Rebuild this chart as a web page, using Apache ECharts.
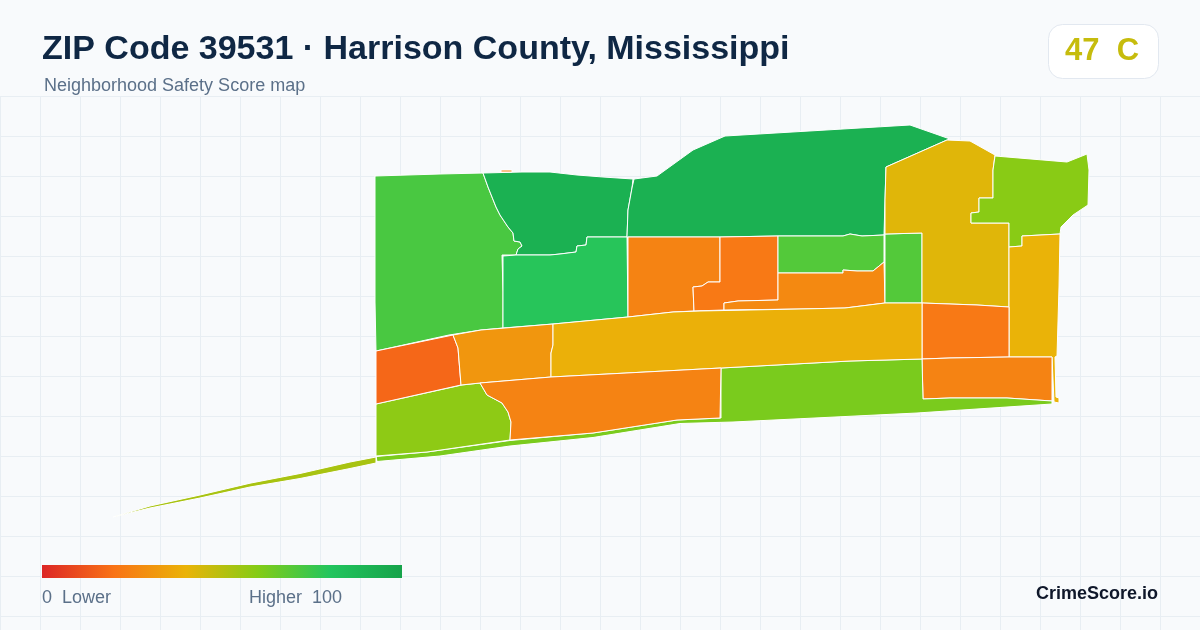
<!DOCTYPE html>
<html>
<head>
<meta charset="utf-8">
<style>html,body{margin:0;padding:0;background:#f8fafc}#c{width:1200px;height:630px}</style>
<script src="https://cdn.jsdelivr.net/npm/echarts@6/dist/echarts.min.js"></script>
</head>
<body>
<div id="c"></div>
<script>
const titleText = "ZIP Code 39531 · Harrison County, Mississippi";
const subtitleText = "Neighborhood Safety Score map";
const overallScore = 47;
const overallGrade = "C";
const brandText = "CrimeScore.io";
const scaleMin = 0, scaleMax = 100;
const scaleColors = ["#dc2626","#f97316","#eab308","#84cc16","#22c55e","#16a34a"];

const regionNames = ["NW","N","NE","CW","C1","C2","C3","C4","C5","EN","NEE","E","EC","SE","S","SW","W","WC","BAND","SC","TAIL"];
const regionScores = [72,92,92,79,25,22,70,27,70,42,59,40,22,25,62,58,17,31,39,25,53];
const regionRings = [
 [[[375,176],[440,174],[483,173],[488,187],[496,207],[500,215],[508,227],[513,233],[514,241],[520,242],[522,246],[518,249],[516,255],[502,255],[503,292],[503,328],[481,330],[449,335],[376,351],[375,302]]],
 [[[483,173],[522,172],[550,172],[577,175],[603,177],[633,179],[632,188],[628,210],[627,237],[587,237],[586,245],[577,246],[576,252],[560,254],[550,255],[516,255],[518,249],[522,246],[520,242],[514,241],[513,233],[508,227],[500,215],[496,207],[488,187]]],
 [[[634,179],[657,176],[693,150],[725,136],[910,125],[950,139],[947,140],[886,167],[885,200],[884,235],[862,236],[850,234],[843,236],[778,236],[720,237],[627,237],[628,210],[632,188]]],
 [[[503,256],[516,255],[550,255],[560,254],[576,252],[577,246],[586,245],[587,237],[627,237],[628,317],[553,324],[503,328],[503,292]]],
 [[[628,237],[720,237],[720,282],[708,282],[702,286],[693,287],[694,311],[673,312],[628,317]],[[501,170],[512,170],[512,172],[501,172]]],
 [[[720,237],[778,236],[778,300],[738,301],[724,303],[724,310],[694,311],[693,287],[702,286],[708,282],[720,282]]],
 [[[778,236],[843,236],[850,234],[862,236],[884,235],[884,262],[873,271],[857,271],[843,270],[843,273],[778,273]]],
 [[[778,273],[843,273],[843,270],[857,271],[873,271],[884,262],[885,303],[845,308],[800,309],[724,310],[724,303],[738,301],[778,300]]],
 [[[885,234],[922,233],[922,303],[885,303]]],
 [[[886,167],[947,140],[970,141],[995,155],[993,170],[993,198],[979,198],[979,212],[971,213],[971,223],[1009,223],[1009,307],[977,305],[922,303],[922,233],[885,234],[885,200]]],
 [[[995,156],[1067,162],[1087,154],[1089,170],[1088,205],[1073,215],[1061,227],[1060,234],[1022,236],[1022,246],[1009,247],[1009,223],[971,223],[971,213],[979,212],[979,198],[993,198],[993,170]]],
 [[[1022,236],[1060,234],[1059,287],[1057,356],[1055,357],[1056,397],[1059,398],[1059,403],[1054,402],[1052,357],[1009,357],[1009,247],[1022,246]]],
 [[[922,303],[977,305],[1009,307],[1009,357],[950,358],[922,359]]],
 [[[922,359],[950,358],[1009,357],[1052,357],[1052,401],[1007,398],[950,398],[923,399]]],
 [[[721,368],[850,361],[922,359],[923,399],[950,398],[1007,398],[1052,401],[1052,404],[917,413],[733,422],[680,423.5],[593,437.5],[510,446],[440,456],[377,461.5],[376,456.5],[427,452],[510,440.5],[593,433],[677,420],[721,418]]],
 [[[376,404],[462,385],[480,383],[487,395],[502,403],[508,412],[511,422],[510,440],[427,452],[376,456]]],
 [[[376,351],[453,335],[458,348],[461,385],[376,404]]],
 [[[453,335],[481,330],[553,324],[553,345],[551,353],[551,377],[480,383],[461,385],[458,348]]],
 [[[553,324],[628,317],[673,312],[700,311],[800,309],[845,308],[885,303],[922,303],[922,359],[850,361],[721,368],[551,377],[551,353],[553,345]]],
 [[[480,383],[551,377],[721,368],[720,418],[677,420],[593,433],[510,440],[511,422],[508,412],[502,403],[487,395]]],
 [[[376,457],[376,463],[350,468.5],[300,478.5],[250,487],[200,498],[150,508],[113,517],[150,506],[200,495],[250,483.2],[300,473.5],[350,462]]]
];

const geoJson = {
  type: "FeatureCollection",
  features: regionNames.map((name, i) => ({
    type: "Feature", properties: { name },
    geometry: regionRings[i].length > 1
      ? { type: "MultiPolygon", coordinates: regionRings[i].map(r => [r]) }
      : { type: "Polygon", coordinates: regionRings[i] }
  }))
};
echarts.registerMap("zip39531", geoJson);

const gridColor = "#e8eef3";
const gridLines = [];
for (let x = 0; x <= 1200; x += 40) gridLines.push({ type: "line", silent: true, shape: { x1: x + .5, y1: 96, x2: x + .5, y2: 630 }, style: { stroke: gridColor, lineWidth: 1 } });
for (let y = 96; y <= 630; y += 40) gridLines.push({ type: "line", silent: true, shape: { x1: 0, y1: y + .5, x2: 1200, y2: y + .5 }, style: { stroke: gridColor, lineWidth: 1 } });

const font = '"Liberation Sans", Arial, sans-serif';
const chart = echarts.init(document.getElementById("c"), null, { renderer: "canvas" });
chart.setOption({
  animation: false,
  backgroundColor: "#f8fafc",
  visualMap: {
    type: "continuous", show: false, min: scaleMin, max: scaleMax, seriesIndex: 0,
    inRange: { color: scaleColors }
  },
  series: [{
    type: "map", map: "zip39531", silent: true, roam: false, selectedMode: false,
    projection: { project: p => p, unproject: p => p },
    left: 113, top: 125, width: 976, height: 392,
    label: { show: false }, emphasis: { disabled: true },
    itemStyle: { borderColor: "#ffffff", borderWidth: 1 },
    data: regionNames.map((name, i) => ({ name, value: regionScores[i] }))
  }],
  graphic: [
    ...gridLines,
    { type: "text", x: 42, y: 33, style: { text: titleText, font: "bold 34px " + font, fill: "#0f2744" } },
    { type: "text", x: 44, y: 77, style: { text: subtitleText, font: "18px " + font, fill: "#5b7089" } },
    { type: "rect", shape: { x: 1048.5, y: 24.5, width: 110, height: 54, r: 14 }, style: { fill: "#ffffff", stroke: "#e2e8f0", lineWidth: 1 } },
    { type: "text", x: 1065, y: 36, style: { text: overallScore + "  " + overallGrade, font: "bold 31px " + font, fill: "#c6bc0d" } },
    { type: "rect", shape: { x: 42, y: 565, width: 360, height: 13 }, style: {
        fill: new echarts.graphic.LinearGradient(0, 0, 1, 0, scaleColors.map((color, i) => ({ offset: i / (scaleColors.length - 1), color }))) } },
    { type: "text", x: 42, y: 589, style: { text: scaleMin + "  Lower", font: "18px " + font, fill: "#5b7089" } },
    { type: "text", x: 249, y: 589, style: { text: "Higher  " + scaleMax, font: "18px " + font, fill: "#5b7089" } },
    { type: "text", x: 1158, y: 585, style: { text: brandText, font: "bold 18px " + font, fill: "#0f172a", textAlign: "right" } }
  ]
});
</script>
</body>
</html>
